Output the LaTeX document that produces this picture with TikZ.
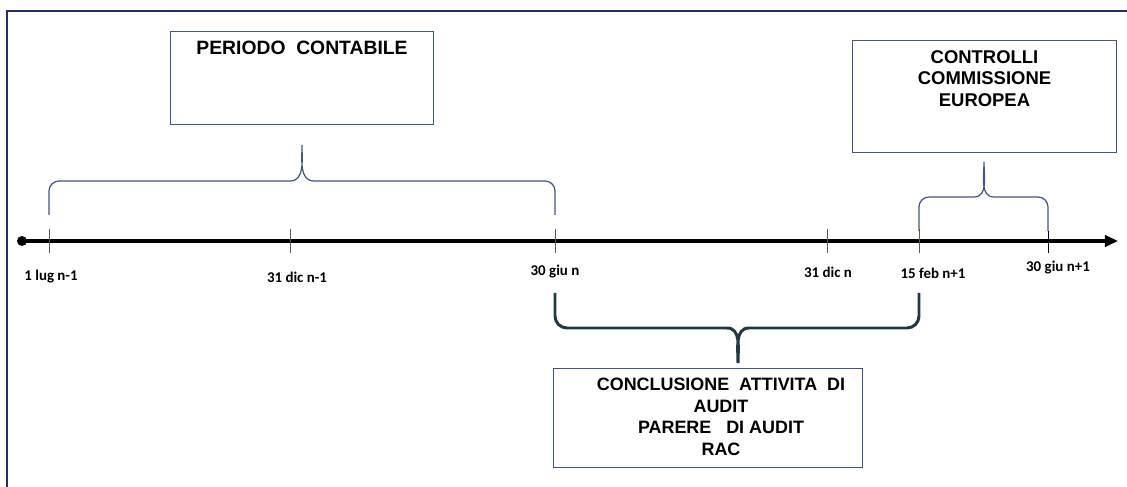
\documentclass[tikz,border=0pt]{standalone}
\usepackage{fontspec}
\setmainfont{Liberation Sans}
\newfontfamily\lblfont{Carlito}
\usetikzlibrary{positioning,arrows.meta}
\definecolor{frameblue}{RGB}{31,50,110}
\definecolor{boxblue}{RGB}{62,86,140}
\definecolor{bracegreen}{RGB}{30,58,64}

\begin{document}
\begin{tikzpicture}[
  x=0.02cm,
  y=0.02cm,
  box/.style={draw=boxblue, line width=0.6pt, anchor=north west, inner sep=0pt},
  boxtxt/.style={font=\fontsize{10.5}{12.2}\selectfont\bfseries, align=center, inner sep=0pt},
  lbl/.style={font=\lblfont\fontsize{8.5}{10}\selectfont\bfseries, inner sep=0pt},
  tick/.style={draw=black!65, line width=0.5pt},
  bracetop/.style={draw=boxblue, line width=0.7pt},
  bracebot/.style={draw=bracegreen, line width=1.7pt},
  axis/.style={line width=2.1pt, -{Triangle[length=7.5pt,width=6.5pt]}}
]

\useasboundingbox (0,0) rectangle (1127,487);

% cornice
\draw[frameblue, line width=1.5pt] (7,0) -- (7,476) -- (1127,476);

% asse dei tempi
\coordinate (start) at (22,246);
\coordinate (stop) at (1118,246);
\coordinate (t1) at (49,246);
\coordinate (t2) at (290,246);
\coordinate (t3) at (555,246);
\coordinate (t4) at (827,246);
\coordinate (t5) at (919,246);
\coordinate (t6) at (1048,246);

\draw[axis] (start) -- (stop);
\fill (start) circle (0.1cm);

\draw[tick] (t1) ++(0,12) -- ++(0,-24);
\draw[tick] (t2) ++(0,12) -- ++(0,-24);
\draw[tick] (t3) ++(0,12) -- ++(0,-24);
\draw[tick] (t4) ++(0,12) -- ++(0,-24);
\draw[tick] (t5) ++(0,12) -- ++(0,-24);
\draw[black, line width=0.5pt] (t6) ++(0,10) -- ++(0,-22);

% date
\node[lbl] (d1) at (51,210) {1 lug n-1};
\node[lbl] (d2) at (297,210) {31 dic n-1};
\node[lbl] (d3) at (555,215) {30 giu n};
\node[lbl] (d4) at (828,215) {31 dic n};
\node[lbl] (d5) at (933,214) {15 feb n+1};
\node[lbl] (d6) at (1058,219) {30 giu n+1};

% riquadri
\node[box, minimum width=5.26cm, minimum height=1.86cm] (perBox) at (170,456) {};
\node[boxtxt, font=\fontsize{11}{12.2}\selectfont\bfseries, below=0.2cm of perBox.north] (perTxt) {PERIODO\ \ CONTABILE};

\node[box, minimum width=5.28cm, minimum height=2.24cm] (ceBox) at (852,447) {};
\node[boxtxt, below=0.2cm of ceBox.north] (ceTxt) {CONTROLLI\\COMMISSIONE\\EUROPEA};

\node[box, minimum width=6.18cm, minimum height=1.98cm] (racBox) at (553,119) {};
\node[boxtxt, font=\fontsize{10.2}{12.2}\selectfont\bfseries, below=0.2cm of racBox.north, xshift=0.26cm] (racTxt) {CONCLUSIONE\ \ ATTIVITA\ \ DI\\AUDIT\\PARERE\ \ \ DI AUDIT\\RAC};

% parentesi
\draw[bracetop] (49,272) -- (49,296) to[out=90,in=180] (59,306) -- (290,306)
  to[out=0,in=-90] (302,342) to[out=-90,in=180] (314,306) -- (545,306)
  to[out=0,in=90] (555,296) -- (555,272);

\draw[bracetop] (919,256) -- (919,280) to[out=90,in=180] (929,290) -- (974,290)
  to[out=0,in=-90] (984,325) to[out=-90,in=180] (994,290) -- (1038,290)
  to[out=0,in=90] (1048,280) -- (1048,256);

\draw[bracebot] (555,194) -- (555,171) to[out=-90,in=180] (567,159) -- (727,159)
  to[out=0,in=90] (738,124) to[out=90,in=180] (749,159) -- (907,159)
  to[out=0,in=-90] (919,171) -- (919,194);

\end{tikzpicture}
\end{document}
